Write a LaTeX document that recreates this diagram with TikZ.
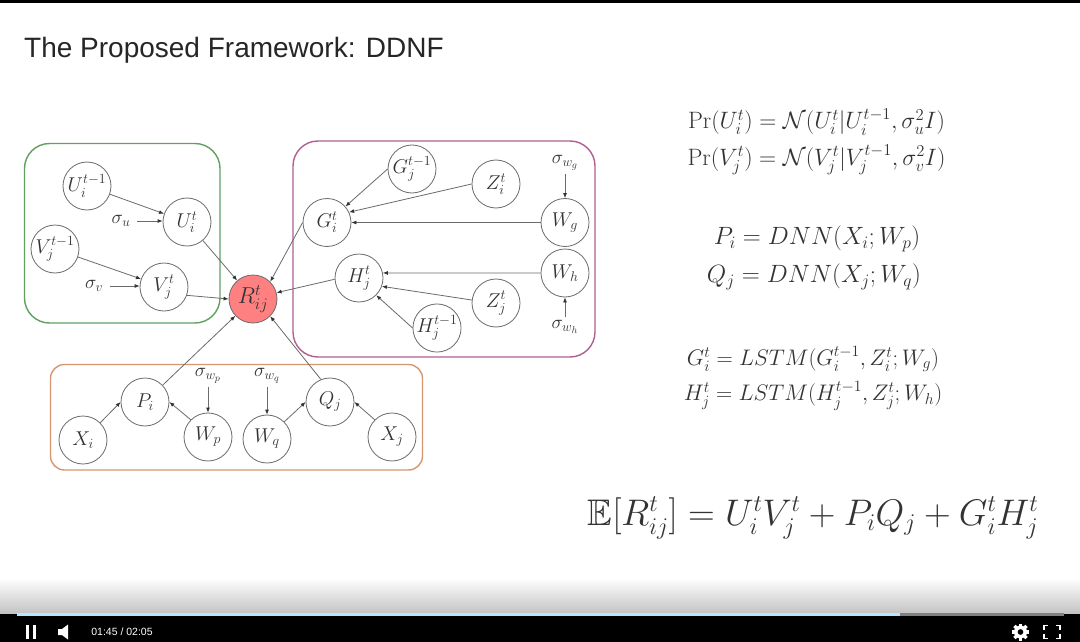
\RequirePackage{fix-cm}
\documentclass[tikz,border=0pt]{standalone}
\usepackage{amsmath,amssymb}
\usepackage{fontspec}
\newfontfamily\arialish{Liberation Sans}
\usetikzlibrary{arrows.meta,shadings}
\DeclareMathSizes{19}{19}{13.5}{10}
\DeclareMathSizes{37}{37}{24}{18}
\definecolor{ink}{gray}{0.2}
\definecolor{edgeg}{gray}{0.42}
\definecolor{boxgreen}{RGB}{96,160,96}
\definecolor{boxpurple}{RGB}{176,96,144}
\definecolor{boxorange}{RGB}{214,150,110}
\definecolor{redfill}{RGB}{255,128,128}
\newcommand{\msize}[1]{\fontsize{#1}{#1}\selectfont}
\tikzset{
  x=1pt,y=-1pt,
  var/.style={circle,draw=edgeg,line width=0.8pt,fill=white,minimum size=48pt,inner sep=0pt,text=ink,font=\msize{20}},
  hp/.style={inner sep=1pt,text=ink,font=\msize{19}},
  eq/.style={inner sep=0pt,text=ink,font=\msize{20}},
  link/.style={draw=edgeg,line width=0.8pt,-{Latex[length=5pt,width=4pt,color=black!80]}},
  frame/.style={line width=1.4pt,rounded corners=25pt},
}
\begin{document}
\begin{tikzpicture}
\useasboundingbox (0,0) rectangle (1080,642);
\fill[white] (0,0) rectangle (1080,642);
% video chrome
\fill[black] (0,0) rectangle (1080,3);
\fill[top color=white,bottom color=black!24] (0,578) rectangle (1080,614);
\fill[black] (0,614) rectangle (1080,642);
\fill[black!50] (900,612.5) rectangle (1064,615.5);
\fill[blue!30!cyan!30!white] (17,612.5) rectangle (900,615.5);
\fill[white] (26,625) rectangle (29,639);
\fill[white] (33,625) rectangle (36,639);
\fill[white] (58,629) -- (62,629) -- (68,624.5) -- (68,639.5) -- (62,635) -- (58,635) -- cycle;
\node[text=white,font=\arialish\fontsize{10.5}{12}\selectfont] (time) at (122,632) {01:45 / 02:05};
\fill[white,even odd rule] (1020.5,632) circle[radius=6.5] (1020.5,632) circle[radius=3];
\foreach \a in {0,45,...,315}{\fill[white,rotate around={\a:(1020.5,632)}] (1018.8,623.5) rectangle (1022.2,627);}
\draw[white,line width=1.2pt] (1044,630) -- (1044,625.5) -- (1048,625.5) (1056,625.5) -- (1060,625.5) -- (1060,630) (1060,634) -- (1060,638.5) -- (1056,638.5) (1048,638.5) -- (1044,638.5) -- (1044,634);
% title
\node[anchor=west,inner sep=0pt,text=black!85,font=\arialish\fontsize{28}{32}\selectfont] (title) at (24,50.5) {The Proposed Framework: DDNF};
% frames
\draw[frame,draw=boxgreen] (24.5,143.5) rectangle (220,323);
\draw[frame,draw=boxpurple] (293,141) rectangle (595,357);
\draw[frame,draw=boxorange,rounded corners=14pt] (50.5,364.5) rectangle (422.5,470);
% nodes
\node[var] (Uprev) at (87,186) {$U_i^{t-1}$};
\node[var] (U) at (187,222) {$U_i^t$};
\node[var] (Vprev) at (55,249) {$V_j^{t-1}$};
\node[var] (V) at (164,287) {$V_j^t$};
\node[var,fill=redfill,font=\msize{23}] (R) at (253,299) {$R_{ij}^t$};
\node[var] (Gprev) at (412,169) {$G_j^{t-1}$};
\node[var] (Zi) at (496,184) {$Z_i^t$};
\node[var] (Wg) at (565,222.5) {$W_g$};
\node[var] (G) at (327,222.5) {$G_i^t$};
\node[var] (H) at (359,278) {$H_j^t$};
\node[var] (Wh) at (565,273) {$W_h$};
\node[var] (Zj) at (496,303) {$Z_j^t$};
\node[var] (Hprev) at (437,328) {$H_j^{t-1}$};
\node[var] (P) at (145,402) {$P_i$};
\node[var] (Xi) at (83,440) {$X_i$};
\node[var] (Wp) at (208,437) {$W_p$};
\node[var] (Wq) at (267,439) {$W_q$};
\node[var] (Q) at (330,402) {$Q_j$};
\node[var] (Xj) at (392,437) {$X_j$};
\node[hp] (su) at (121,221) {$\sigma_u$};
\node[hp] (sv) at (94,286) {$\sigma_v$};
\node[hp] (swg) at (565,163) {$\sigma_{w_g}$};
\node[hp] (swh) at (565,327) {$\sigma_{w_h}$};
\node[hp] (swp) at (208,376) {$\sigma_{w_p}$};
\node[hp] (swq) at (267,376) {$\sigma_{w_q}$};
% connectors
\draw[link] (Uprev) -- (U);
\draw[link,shorten <=6pt] (su.east) -- (U.west |- su.east);
\draw[link] (Vprev) -- (V);
\draw[link,shorten <=6pt] (sv.east) -- (V.west |- sv.east);
\draw[link] (U) -- (R);
\draw[link] (V.340) -- (R.180);
\draw[link] (G.180) -- (R.45);
\draw[link] (H.183) -- (R.15);
\draw[link] (P) -- (R);
\draw[link] (Q.112) -- (R.-45);
\draw[link] (Gprev.180) -- (G.41);
\draw[link] (Zi.180) -- (G.25);
\draw[link] (Wg.180) -- (G.0);
\draw[link] (Wh.180) -- (H.12);
\draw[link] (Zj.173) -- (H.340);
\draw[link] (Hprev.180) -- (H.315);
\draw[link,shorten <=2pt] (swg) -- (Wg);
\draw[link,shorten <=2pt] (swh) -- (Wh);
\draw[link,shorten <=2pt] (swp) -- (Wp);
\draw[link,shorten <=2pt] (swq) -- (Wq);
\draw[link] (Xi.45) -- (P.180);
\draw[link] (Wp.135) -- (P.0);
\draw[link] (Wq.45) -- (Q.180);
\draw[link] (Xj.135) -- (Q.0);
% equations
\node[eq,font=\msize{23.7}] (e1) at (816.5,122) {$\Pr(U_i^t)=\mathcal{N}(U_i^t|U_i^{t-1},\sigma_u^2 I)$};
\node[eq,font=\msize{23.7}] (e2) at (816.5,160) {$\Pr(V_j^t)=\mathcal{N}(V_j^t|V_j^{t-1},\sigma_v^2 I)$};
\node[eq,font=\msize{25}] (e3) at (817,239) {$P_i=DNN(X_i;W_p)$};
\node[eq,font=\msize{25}] (e4) at (814,277) {$Q_j=DNN(X_j;W_q)$};
\node[eq,font=\msize{22.5}] (e5) at (813,359) {$G_i^t=LSTM(G_i^{t-1},Z_i^t;W_g)$};
\node[eq,font=\msize{22.5}] (e6) at (813,396) {$H_j^t=LSTM(H_j^{t-1},Z_j^t;W_h)$};
\node[eq,font=\msize{37}] (e7) at (813,518) {$\mathbb{E}[R_{ij}^t]=U_i^tV_j^t+P_iQ_j+G_i^tH_j^t$};
\end{tikzpicture}
\end{document}
